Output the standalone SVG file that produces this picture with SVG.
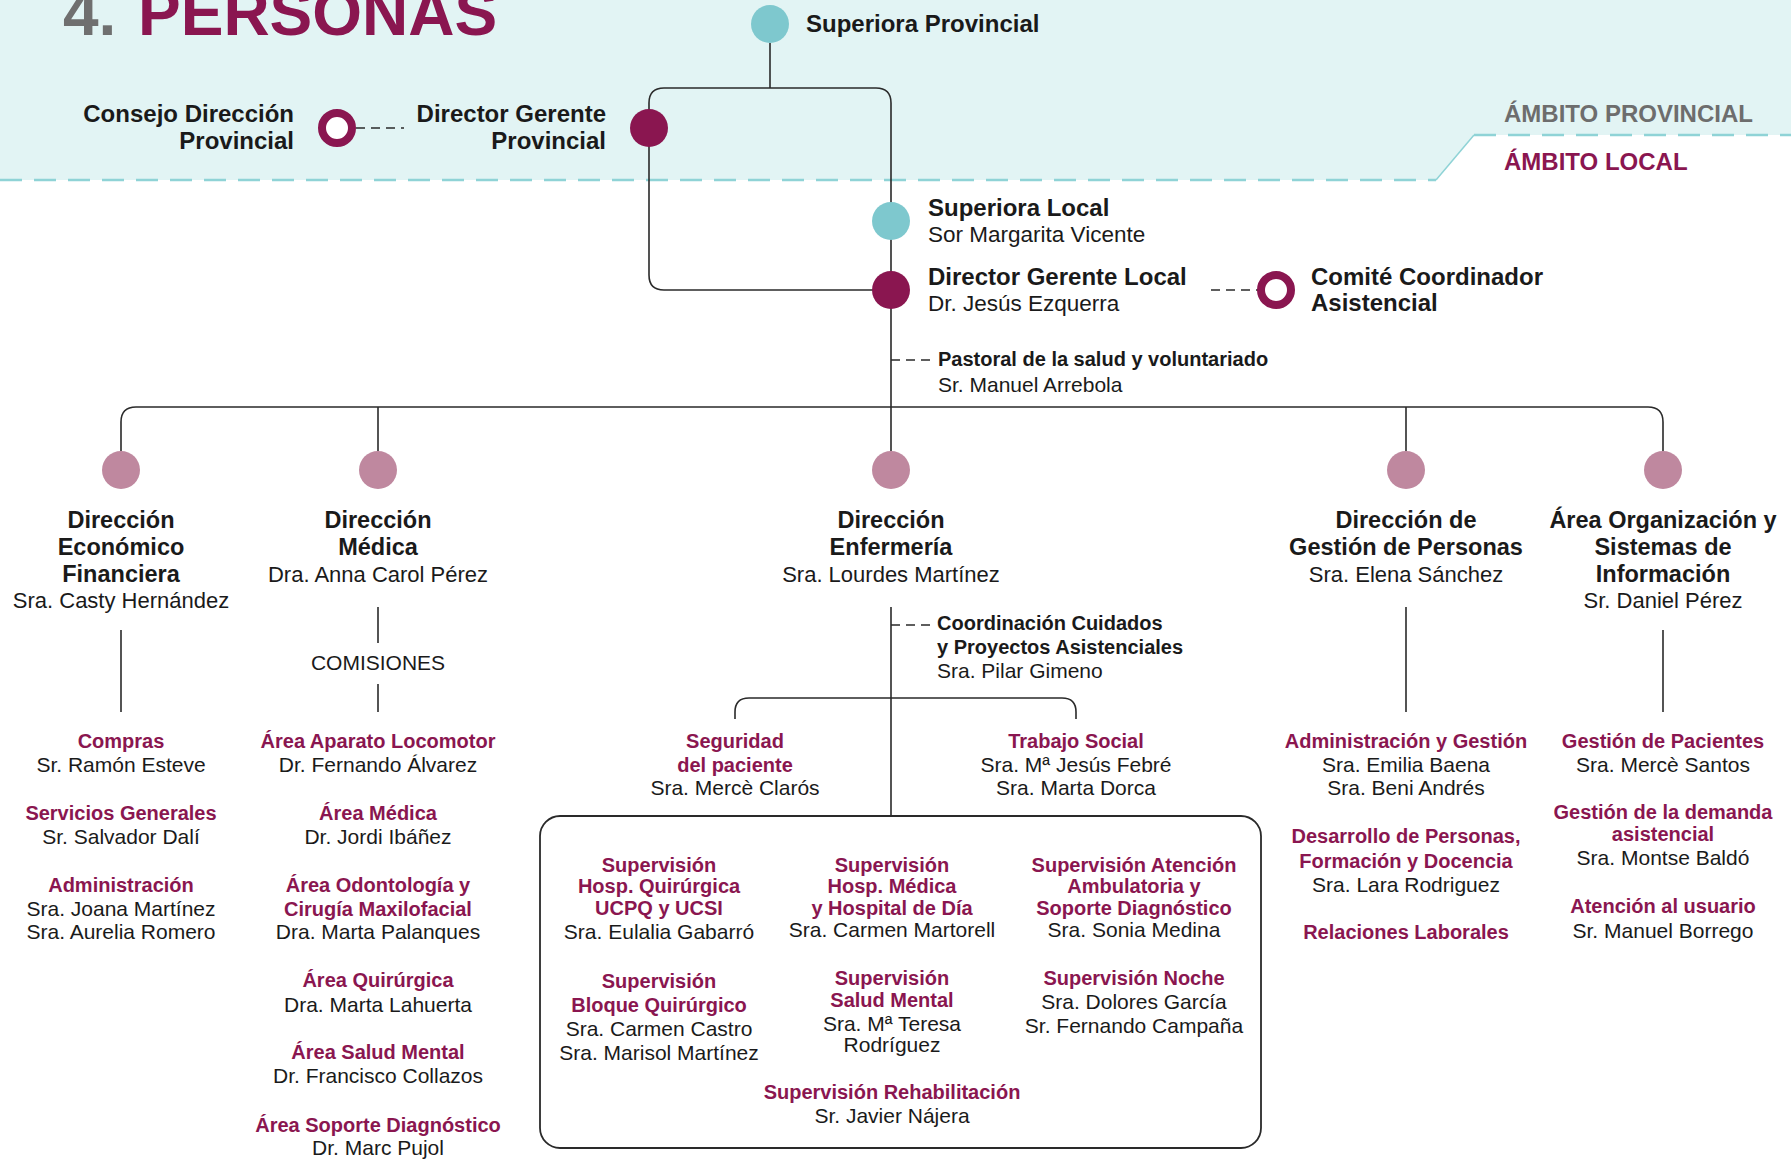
<svg xmlns="http://www.w3.org/2000/svg" width="1791" height="1159" viewBox="0 0 1791 1159">
<style>
text{font-family:"Liberation Sans",Arial,sans-serif;fill:#1a1a1a}
.h{font-weight:bold;font-size:24px}
.hn{font-size:22.5px}
.r{text-anchor:end}
.dh{font-weight:bold;font-size:23.5px;text-anchor:middle}
.dn{font-size:22px;text-anchor:middle}
.st{font-weight:bold;font-size:20px;text-anchor:middle;fill:#8a1650}
.sn{font-size:21px;text-anchor:middle}
.pb{font-weight:bold;font-size:20px}
.pn{font-size:21px}
.ln{fill:none;stroke:#2a2a2a;stroke-width:1.6}
.dash{fill:none;stroke:#2a2a2a;stroke-width:1.6;stroke-dasharray:9 6}
.teal{fill:#7ec8ce}
.mag{fill:#8a1650}
.pink{fill:#bf889f}
.ring{fill:#fff;stroke:#8a1650;stroke-width:8}
</style>
<rect width="1791" height="1159" fill="#fff"/>
<g id="background">
<path d="M0 0 H1791 V135 H1474 L1436 180 H0 Z" fill="#e2f4f4"/>
<path d="M0 180 H1436" stroke="#8fd3d6" stroke-width="2.5" stroke-dasharray="22 12" fill="none"/>
<path d="M1436 180 L1474 135" stroke="#8fd3d6" stroke-width="1.5" fill="none"/>
<path d="M1474 135 H1791" stroke="#8fd3d6" stroke-width="2.5" stroke-dasharray="22 12" fill="none"/>
<text x="63" y="35" style="font-weight:bold;font-size:64px;fill:#6f6f6f">4.</text>
<text x="138" y="35" style="font-weight:bold;font-size:64px;fill:#8a1650">PERSONAS</text>
<text x="1504" y="122" style="font-weight:bold;font-size:24px;fill:#6d6d6d">ÁMBITO PROVINCIAL</text>
<text x="1504" y="170" style="font-weight:bold;font-size:24px;fill:#8a1650">ÁMBITO LOCAL</text>
</g>
<g id="connectors">
<path class="ln" d="M770 43 V88"/>
<path class="ln" d="M891 451 V103 Q891 88 876 88 H664 Q649 88 649 103 V275 Q649 290 664 290 H891"/>
<path class="ln" d="M891 607 V815"/>
<path class="dash" d="M356 128 H404"/>
<path class="dash" d="M1211 290 H1259"/>
<path class="dash" d="M891 360 H935"/>
<path class="ln" d="M121 451 V422 Q121 407 136 407 H1648 Q1663 407 1663 422 V451"/>
<path class="ln" d="M378 407 V451"/>
<path class="ln" d="M1406 407 V451"/>
<path class="ln" d="M121 630 V712"/>
<path class="ln" d="M378 607 V643"/>
<path class="ln" d="M378 684 V712"/>
<path class="ln" d="M1406 607 V712"/>
<path class="ln" d="M1663 630 V712"/>
<path class="dash" d="M891 625 H935"/>
<path class="ln" d="M735 719 V712 Q735 698 749 698 H1062 Q1076 698 1076 712 V719"/>
</g>
<g id="superiora-provincial">
<circle class="teal" cx="770" cy="24" r="19"/>
<text class="h" x="806" y="32">Superiora Provincial</text>
</g>
<g id="consejo-direccion-provincial">
<circle class="ring" cx="337" cy="128" r="15"/>
<text class="h r" x="294" y="122">Consejo Dirección</text>
<text class="h r" x="294" y="149">Provincial</text>
</g>
<g id="director-gerente-provincial">
<circle class="mag" cx="649" cy="128" r="19"/>
<text class="h r" x="606" y="122">Director Gerente</text>
<text class="h r" x="606" y="149">Provincial</text>
</g>
<g id="superiora-local">
<circle class="teal" cx="891" cy="221" r="19"/>
<text class="h" x="928" y="216">Superiora Local</text>
<text class="hn" x="928" y="242">Sor Margarita Vicente</text>
</g>
<g id="director-gerente-local">
<circle class="mag" cx="891" cy="290" r="19"/>
<text class="h" x="928" y="285">Director Gerente Local</text>
<text class="hn" x="928" y="311">Dr. Jesús Ezquerra</text>
</g>
<g id="comite-coordinador">
<circle class="ring" cx="1276" cy="290" r="15"/>
<text class="h" x="1311" y="285">Comité Coordinador</text>
<text class="h" x="1311" y="311">Asistencial</text>
</g>
<g id="pastoral">
<text class="pb" x="938" y="366">Pastoral de la salud y voluntariado</text>
<text class="pn" x="938" y="392">Sr. Manuel Arrebola</text>
</g>
<g id="dir-economico">
<circle class="pink" cx="121" cy="470" r="19"/>
<text class="dh" x="121" y="528">Dirección</text>
<text class="dh" x="121" y="555">Económico</text>
<text class="dh" x="121" y="582">Financiera</text>
<text class="dn" x="121" y="608">Sra. Casty Hernández</text>
</g>
<g id="dir-medica">
<circle class="pink" cx="378" cy="470" r="19"/>
<text class="dh" x="378" y="528">Dirección</text>
<text class="dh" x="378" y="555">Médica</text>
<text class="dn" x="378" y="582">Dra. Anna Carol Pérez</text>
<text class="sn" x="378" y="670">COMISIONES</text>
</g>
<g id="dir-enfermeria">
<circle class="pink" cx="891" cy="470" r="19"/>
<text class="dh" x="891" y="528">Dirección</text>
<text class="dh" x="891" y="555">Enfermería</text>
<text class="dn" x="891" y="582">Sra. Lourdes Martínez</text>
</g>
<g id="dir-personas">
<circle class="pink" cx="1406" cy="470" r="19"/>
<text class="dh" x="1406" y="528">Dirección de</text>
<text class="dh" x="1406" y="555">Gestión de Personas</text>
<text class="dn" x="1406" y="582">Sra. Elena Sánchez</text>
</g>
<g id="area-organizacion">
<circle class="pink" cx="1663" cy="470" r="19"/>
<text class="dh" x="1663" y="528">Área Organización y</text>
<text class="dh" x="1663" y="555">Sistemas de</text>
<text class="dh" x="1663" y="582">Información</text>
<text class="dn" x="1663" y="608">Sr. Daniel Pérez</text>
</g>
<g id="coordinacion-cuidados">
<text class="pb" x="937" y="630">Coordinación Cuidados</text>
<text class="pb" x="937" y="654">y Proyectos Asistenciales</text>
<text class="pn" x="937" y="678">Sra. Pilar Gimeno</text>
</g>
<g id="col-economico">
<text class="st" x="121" y="748">Compras</text>
<text class="sn" x="121" y="772">Sr. Ramón Esteve</text>
<text class="st" x="121" y="820">Servicios Generales</text>
<text class="sn" x="121" y="844">Sr. Salvador Dalí</text>
<text class="st" x="121" y="892">Administración</text>
<text class="sn" x="121" y="916">Sra. Joana Martínez</text>
<text class="sn" x="121" y="939">Sra. Aurelia Romero</text>
</g>
<g id="col-medica">
<text class="st" x="378" y="748">Área Aparato Locomotor</text>
<text class="sn" x="378" y="772">Dr. Fernando Álvarez</text>
<text class="st" x="378" y="820">Área Médica</text>
<text class="sn" x="378" y="844">Dr. Jordi Ibáñez</text>
<text class="st" x="378" y="892">Área Odontología y</text>
<text class="st" x="378" y="916">Cirugía Maxilofacial</text>
<text class="sn" x="378" y="939">Dra. Marta Palanques</text>
<text class="st" x="378" y="987">Área Quirúrgica</text>
<text class="sn" x="378" y="1012">Dra. Marta Lahuerta</text>
<text class="st" x="378" y="1059">Área Salud Mental</text>
<text class="sn" x="378" y="1083">Dr. Francisco Collazos</text>
<text class="st" x="378" y="1132">Área Soporte Diagnóstico</text>
<text class="sn" x="378" y="1155">Dr. Marc Pujol</text>
</g>
<g id="seguridad-paciente">
<text class="st" x="735" y="748">Seguridad</text>
<text class="st" x="735" y="772">del paciente</text>
<text class="sn" x="735" y="795">Sra. Mercè Clarós</text>
</g>
<g id="trabajo-social">
<text class="st" x="1076" y="748">Trabajo Social</text>
<text class="sn" x="1076" y="772">Sra. Mª Jesús Febré</text>
<text class="sn" x="1076" y="795">Sra. Marta Dorca</text>
</g>
<g id="supervisiones">
<rect x="540" y="816" width="721" height="332" rx="20" fill="none" stroke="#2a2a2a" stroke-width="1.8"/>
<text class="st" x="659" y="872">Supervisión</text>
<text class="st" x="659" y="893">Hosp. Quirúrgica</text>
<text class="st" x="659" y="915">UCPQ y UCSI</text>
<text class="sn" x="659" y="939">Sra. Eulalia Gabarró</text>
<text class="st" x="892" y="872">Supervisión</text>
<text class="st" x="892" y="893">Hosp. Médica</text>
<text class="st" x="892" y="915">y Hospital de Día</text>
<text class="sn" x="892" y="937">Sra. Carmen Martorell</text>
<text class="st" x="1134" y="872">Supervisión Atención</text>
<text class="st" x="1134" y="893">Ambulatoria y</text>
<text class="st" x="1134" y="915">Soporte Diagnóstico</text>
<text class="sn" x="1134" y="937">Sra. Sonia Medina</text>
<text class="st" x="659" y="988">Supervisión</text>
<text class="st" x="659" y="1012">Bloque Quirúrgico</text>
<text class="sn" x="659" y="1036">Sra. Carmen Castro</text>
<text class="sn" x="659" y="1060">Sra. Marisol Martínez</text>
<text class="st" x="892" y="985">Supervisión</text>
<text class="st" x="892" y="1007">Salud Mental</text>
<text class="sn" x="892" y="1031">Sra. Mª Teresa</text>
<text class="sn" x="892" y="1052">Rodríguez</text>
<text class="st" x="1134" y="985">Supervisión Noche</text>
<text class="sn" x="1134" y="1009">Sra. Dolores García</text>
<text class="sn" x="1134" y="1033">Sr. Fernando Campaña</text>
<text class="st" x="892" y="1099">Supervisión Rehabilitación</text>
<text class="sn" x="892" y="1123">Sr. Javier Nájera</text>
</g>
<g id="col-personas">
<text class="st" x="1406" y="748">Administración y Gestión</text>
<text class="sn" x="1406" y="772">Sra. Emilia Baena</text>
<text class="sn" x="1406" y="795">Sra. Beni Andrés</text>
<text class="st" x="1406" y="843">Desarrollo de Personas,</text>
<text class="st" x="1406" y="868">Formación y Docencia</text>
<text class="sn" x="1406" y="892">Sra. Lara Rodriguez</text>
<text class="st" x="1406" y="939">Relaciones Laborales</text>
</g>
<g id="col-organizacion">
<text class="st" x="1663" y="748">Gestión de Pacientes</text>
<text class="sn" x="1663" y="772">Sra. Mercè Santos</text>
<text class="st" x="1663" y="819">Gestión de la demanda</text>
<text class="st" x="1663" y="841">asistencial</text>
<text class="sn" x="1663" y="865">Sra. Montse Baldó</text>
<text class="st" x="1663" y="913">Atención al usuario</text>
<text class="sn" x="1663" y="938">Sr. Manuel Borrego</text>
</g>
</svg>
